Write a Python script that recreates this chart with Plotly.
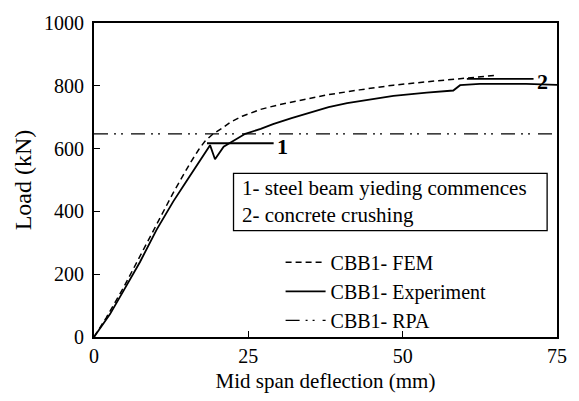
import plotly.graph_objects as go

# Data
exp_x = [0, 2.6, 4.75, 7.45, 10.15, 12.85, 15, 16.9, 18.3, 18.8, 19.6, 21, 22, 23,
         24.5, 27, 29, 32, 35, 38, 41, 44, 48.5, 53.9, 58.2, 59.3, 62.5, 66, 70, 75]
exp_y = [0, 73, 146, 239, 342, 432, 497, 553, 592, 611, 566, 606, 618, 630,
         647, 663, 678, 697, 715, 732, 745, 755, 768, 778, 785, 802, 806, 806, 806, 803]

fem_x = [0, 2, 4.75, 7.45, 10.15, 12.85, 15.55, 17, 18, 19.3, 21, 22, 24, 27, 30, 33,
         37.7, 43, 48.5, 54, 59.3, 65]
fem_y = [0, 62, 156, 259, 360, 460, 553, 598, 624, 647, 668, 683, 703, 725, 740, 753,
         771, 787, 802, 813, 823, 833]

rpa_load = 647
x_range = [0, 75]
y_range = [0, 1000]
x_ticks = [0, 25, 50, 75]
y_ticks = [0, 200, 400, 600, 800, 1000]

marker1 = {"x0": 18.3, "x1": 29.1, "y": 617, "label": "1"}
marker2 = {"x0": 60.4, "x1": 71.2, "y": 822, "label": "2"}

FONT = "Liberation Serif"

fig = go.Figure()
fig.add_trace(go.Scatter(x=fem_x, y=fem_y, mode="lines", name="CBB1- FEM",
                         line=dict(color="black", width=1.5, dash="6px,4px")))
fig.add_trace(go.Scatter(x=exp_x, y=exp_y, mode="lines", name="CBB1- Experiment",
                         line=dict(color="black", width=1.8)))
fig.add_trace(go.Scatter(x=x_range, y=[rpa_load, rpa_load], mode="lines", name="CBB1- RPA",
                         line=dict(color="black", width=1.3,
                                   dash="14px,6px,2px,5px,2px,8px")))

for m in (marker1, marker2):
    fig.add_shape(type="line", x0=m["x0"], x1=m["x1"], y0=m["y"], y1=m["y"],
                  xref="x", yref="y", line=dict(color="black", width=1.8))
    fig.add_annotation(x=m["x1"], y=m["y"], xref="x", yref="y", text="<b>%s</b>" % m["label"],
                       showarrow=False, xanchor="left", xshift=1, yshift=-3,
                       font=dict(family=FONT, size=22, color="black"))

# annotation box
fig.add_shape(type="rect", x0=22.6, x1=73.4, y0=339, y1=521, xref="x", yref="y",
              line=dict(color="black", width=1.3), fillcolor="white", layer="above")
fig.add_annotation(x=23.6, y=430, xref="x", yref="y",
                   text="1- steel beam yieding commences<br>2- concrete crushing",
                   showarrow=False, xanchor="left", yanchor="middle", align="left",
                   font=dict(family=FONT, size=21, color="black"))

fig.update_layout(
    width=579, height=401,
    margin=dict(l=94, r=22, t=15, b=64),
    paper_bgcolor="white", plot_bgcolor="white",
    font=dict(family=FONT, size=20, color="black"),
    showlegend=True,
    legend=dict(x=0.403, y=0.30, xanchor="left", yanchor="top",
                bgcolor="rgba(0,0,0,0)", font=dict(family=FONT, size=20),
                itemwidth=40, tracegroupgap=0),
    xaxis=dict(range=x_range, tickvals=x_ticks, ticks="inside", ticklen=6,
               tickwidth=1.3, tickcolor="black", showline=True, linecolor="black",
               linewidth=1.8, mirror=True, showgrid=False, zeroline=False,
               title=dict(text="Mid span deflection (mm)", standoff=7,
                          font=dict(family=FONT, size=21)),
               tickfont=dict(family=FONT, size=20)),
    yaxis=dict(range=y_range, tickvals=y_ticks, ticks="inside", ticklen=6,
               tickwidth=1.3, tickcolor="black", showline=True, linecolor="black",
               linewidth=1.8, mirror=True, showgrid=False, zeroline=False,
               ticklabelstandoff=4,
               title=dict(text="Load (kN)", standoff=6,
                          font=dict(family=FONT, size=24)),
               tickfont=dict(family=FONT, size=20)),
)

fig.write_html("out.html")
